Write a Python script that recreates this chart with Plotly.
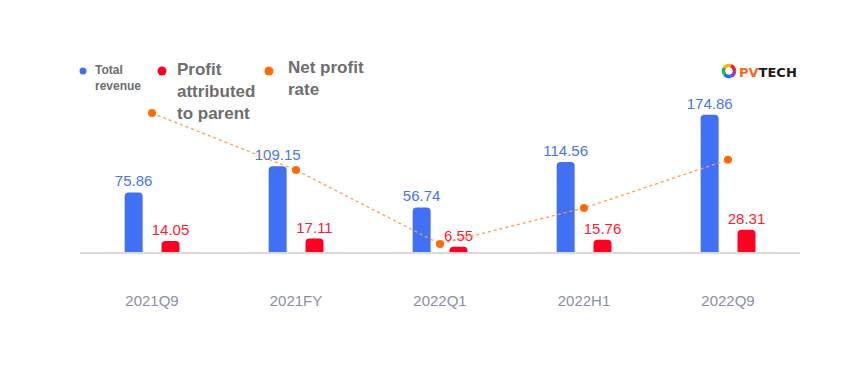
import plotly.graph_objects as go
import math

categories = ["2021Q9", "2021FY", "2022Q1", "2022H1", "2022Q9"]
total_revenue = [75.86, 109.15, 56.74, 114.56, 174.86]
profit_parent = [14.05, 17.11, 6.55, 15.76, 28.31]
net_profit_rate = [18.5, 15.45, 11.5, 13.42, 16.0]

OFF = 8  # page body margin
W, H = 864 - OFF, 367 - OFF
L, R, T = 80 - OFF, 64, 100 - OFF
PH = 152
B = H - T - PH
PW = W - L - R

def px(x):
    return (x - OFF - L) / PW

def py(y):
    return (T + PH - (y - OFF)) / PH

BLUE = "#4270F5"
RED = "#FF0022"
ORANGE = "#FF6A0A"
GREY = "#6E6E6E"

fig = go.Figure()
fig.add_trace(go.Bar(
    x=categories, y=total_revenue, name="Total revenue",
    marker=dict(color=BLUE, line=dict(width=0)), width=0.125, offset=-0.19,
    text=[f"{v:.2f}" for v in total_revenue], textposition="outside",
    constraintext="none",
    textfont=dict(color="#4A74F2", size=15, family="Liberation Sans, Arial"),
    cliponaxis=False,
))
fig.add_trace(go.Bar(
    x=categories, y=profit_parent, name="Profit attributed to parent",
    marker=dict(color=RED, line=dict(width=0)), width=0.125, offset=0.066,
    text=[f"{v:.2f}" for v in profit_parent], textposition="outside",
    constraintext="none",
    textfont=dict(color="#FF1A30", size=15, family="Liberation Sans, Arial"),
    cliponaxis=False,
))
fig.add_trace(go.Scatter(
    x=categories, y=net_profit_rate, name="Net profit rate", yaxis="y2",
    mode="lines+markers",
    line=dict(color="#FF9A55", width=1.3, dash="dot"),
    marker=dict(color=ORANGE, size=8),
    cliponaxis=False,
))

fig.update_layout(
    width=W, height=H,
    margin=dict(l=L, r=R, t=T, b=B),
    paper_bgcolor="white", plot_bgcolor="white",
    barmode="overlay", barcornerradius=4,
    showlegend=False,
    xaxis=dict(
        type="category", range=[-0.5, 4.5], showgrid=False, zeroline=False,
        showline=True, linecolor="#D9D9D9", linewidth=1.5, ticks="",
        tickfont=dict(color="#8A8FA3", size=15, family="Liberation Sans, Arial"),
        ticklabelstandoff=34,
    ),
    yaxis=dict(range=[0, 193.6], visible=False, showgrid=False, zeroline=False),
    yaxis2=dict(range=[11.07, 19.2], overlaying="y", visible=False,
                showgrid=False, zeroline=False),
)

def dot(cx, cy, r, color):
    fig.add_shape(type="circle", xref="paper", yref="paper",
                  x0=px(cx - r), x1=px(cx + r), y0=py(cy + r), y1=py(cy - r),
                  fillcolor=color, line=dict(width=0), layer="above")

dot(83, 71, 3.5, BLUE)
dot(162, 71, 4.5, RED)
dot(269, 71, 4.5, ORANGE)

def label(x, y, text, size):
    fig.add_annotation(xref="paper", yref="paper", x=px(x), y=py(y),
                       xanchor="left", yanchor="top", align="left",
                       text=text, showarrow=False,
                       font=dict(color=GREY, size=size, family="Liberation Sans, Arial"))

label(93, 61, "<b>Total<br>revenue</b>", 12)
label(175, 58, "<b>Profit<br>attributed<br>to parent</b>", 17)
label(286, 56, "<b>Net profit<br>rate</b>", 17)

# PVTECH logo
ring = ["#E8232A", "#F7B500", "#2DB34A", "#1E6FD9", "#8A3FC4"]
cx, cy, rr = 729, 71, 5.5
for i, c in enumerate(ring):
    a0 = 2 * math.pi * i / len(ring)
    a1 = 2 * math.pi * (i + 1) / len(ring)
    pts = []
    for k in range(7):
        a = a0 + (a1 - a0) * k / 6
        pts.append((px(cx + rr * math.cos(a)), py(cy - rr * math.sin(a))))
    path = "M " + " L ".join(f"{x},{y}" for x, y in pts)
    fig.add_shape(type="path", xref="paper", yref="paper", path=path,
                  line=dict(color=c, width=3.5), layer="above")
fig.add_annotation(xref="paper", yref="paper", x=px(737), y=py(72),
                   xanchor="left", yanchor="middle", showarrow=False,
                   text="<b><span style='color:#F26B1D'>PV</span>TECH</b>",
                   font=dict(color="#1A1A1A", size=13, family="DejaVu Sans"))

fig.write_html("out.html")
